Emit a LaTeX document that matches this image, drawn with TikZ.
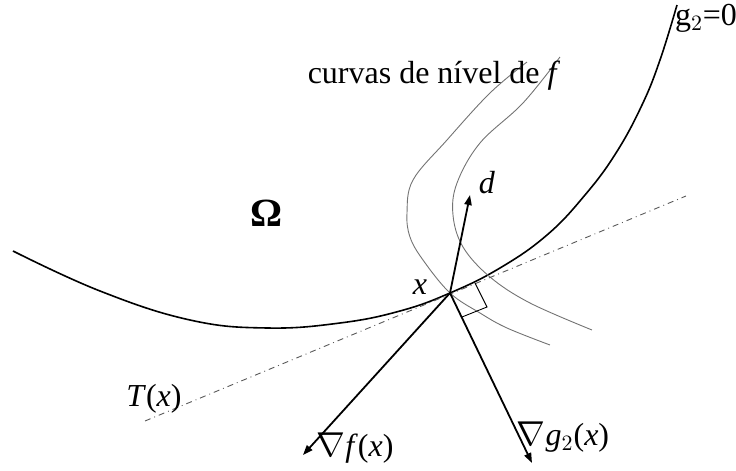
\documentclass[tikz,border=0pt]{standalone}
\usepackage{fontspec}
\setmainfont{Liberation Serif}
\usetikzlibrary{arrows.meta}

\begin{document}
\begin{tikzpicture}[x=0.5pt,y=-0.5pt,font=\fontsize{16}{19}\selectfont,
  vec/.style={line width=0.9pt,-{Triangle[length=5pt,width=3.6pt]}},
  nivel/.style={line width=0.45pt,black!55},
  lbl/.style={inner sep=0pt}]
\useasboundingbox (0,0) rectangle (736,471);
\draw[line width=0.8pt] plot[smooth,tension=0.7] coordinates {(13,251) (100,291) (190,320) (267,328) (340,323) (400,311) (450,293) (500,268) (547,235) (585,195) (616,153) (642,105) (660,60) (677,5)};
\draw[nivel] plot[smooth,tension=0.6] coordinates {(527,62) (490,93) (447,140) (413,180) (407,213) (410,237) (423,260) (450,293) (480,313) (507,328) (550,345)};
\draw[nivel] plot[smooth,tension=0.6] coordinates {(560,57) (523,103) (480,143) (457,183) (453,215) (463,247) (490,277) (530,303) (592,330)};
\draw[line width=0.45pt,black!65,dash dot] (145,421) -- (686,196);
\coordinate (x) at (450,293);
\coordinate (dtip) at (470,195);
\coordinate (gftip) at (303,455);
\coordinate (ggtip) at (532,463);
\draw[vec] (x) -- (dtip);
\draw[vec] (x) -- (gftip);
\draw[vec] (x) -- (ggtip);
\draw[line width=0.45pt] (475,283) -- (487,307) -- (462,317);
\node[lbl,font=\fontsize{20}{24}\selectfont] (omega) at (267,213) {\textbf{Ω}};
\node[lbl] (xlbl) at (420,287) {\textit{x}};
\node[lbl] (dlbl) at (487,183) {\textit{d}};
\node[lbl] (tlbl) at (154,399) {\textit{T}(\textit{x})};
\node[lbl] (gflbl) at (355,448) {$\nabla$\textit{f}(\textit{x})};
\node[lbl] (gglbl) at (563,437) {$\nabla$\textit{g}$_2$(\textit{x})};
\node[lbl] (curvas) at (434,76) {curvas de nível de \textit{f}};
\node[lbl] (g2lbl) at (706,18) {g$_2$=0};
\end{tikzpicture}
\end{document}
